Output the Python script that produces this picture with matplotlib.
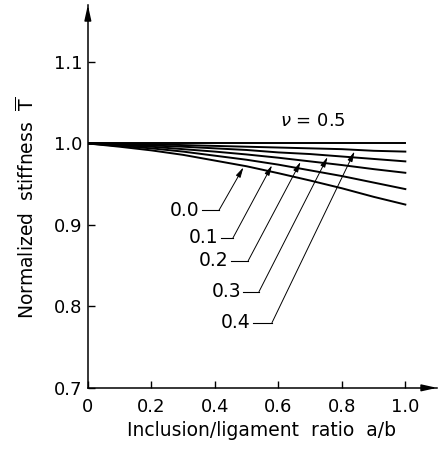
import matplotlib
matplotlib.use("Agg")
import matplotlib.pyplot as plt
import numpy as np

plt.rcParams['font.family'] = ['DejaVu Sans']
plt.rcParams['mathtext.fontset'] = 'dejavusans'

# inclusion/ligament ratio a/b
ratio = [0.0, 0.1, 0.2, 0.3, 0.4, 0.5, 0.6, 0.7, 0.8, 0.9, 1.0]

# normalized stiffness for each Poisson ratio
nu_values = ['0.0', '0.1', '0.2', '0.3', '0.4', '0.5']
stiff_00 = [1.0, 0.996, 0.9915, 0.986, 0.979, 0.972, 0.9635, 0.9545, 0.945, 0.9345, 0.925]
stiff_01 = [1.0, 0.997, 0.994, 0.990, 0.985, 0.980, 0.974, 0.967, 0.960, 0.952, 0.944]
stiff_02 = [1.0, 0.998, 0.996, 0.993, 0.990, 0.9865, 0.9825, 0.978, 0.9735, 0.9685, 0.964]
stiff_03 = [1.0, 0.999, 0.9975, 0.996, 0.994, 0.992, 0.989, 0.987, 0.984, 0.981, 0.978]
stiff_04 = [1.0, 0.9995, 0.999, 0.998, 0.997, 0.996, 0.995, 0.994, 0.993, 0.991, 0.990]
stiff_05 = [1.0, 1.0, 1.0, 1.0, 1.0, 1.0, 1.0, 1.0, 1.0, 1.0, 1.0]
curves = [stiff_00, stiff_01, stiff_02, stiff_03, stiff_04, stiff_05]

# where the arrows touch their curves (a/b)
arrow_at = [0.49, 0.58, 0.67, 0.755, 0.84]

# label layout: label height, and start/end of the short horizontal leader
label_y = [0.918, 0.884, 0.856, 0.818, 0.780]
leader_x = [(0.36, 0.413), (0.42, 0.457), (0.45, 0.505), (0.49, 0.539), (0.52, 0.58)]

xticks = [0, 0.2, 0.4, 0.6, 0.8, 1.0]
xticklabels = ['0', '0.2', '0.4', '0.6', '0.8', '1.0']
yticks = [0.7, 0.8, 0.9, 1.0, 1.1]

fig = plt.figure(figsize=(4.46, 4.51), dpi=100)
ax = fig.add_axes([0.197, 0.140, 0.783, 0.849])

for c in curves:
    ax.plot(ratio, c, color='k', lw=1.4)

for i in range(5):
    tip_y = np.interp(arrow_at[i], ratio, curves[i])
    x0, x1 = leader_x[i]
    ly = label_y[i]
    ax.plot([x0, x1], [ly, ly], color='k', lw=0.8)
    ax.annotate('', xy=(arrow_at[i], tip_y - 0.002), xytext=(x1, ly),
                arrowprops=dict(arrowstyle='-|>,head_length=0.6,head_width=0.15',
                                color='k', lw=0.7, shrinkA=0, shrinkB=0))
    ax.text(x0 - 0.008, ly, nu_values[i], fontsize=13.5, ha='right', va='center')

ax.text(0.71, 1.027, r'$\nu$ = 0.5', fontsize=13, ha='center', va='center')

ax.set_xlim(0, 1.1)
ax.set_ylim(0.7, 1.17)
ax.set_xticks(xticks)
ax.set_xticklabels(xticklabels)
ax.set_yticks(yticks)
ax.set_yticklabels(['%.1f' % v for v in yticks])
ax.tick_params(direction='in', length=5, width=1, labelsize=13)
ax.tick_params(axis='x', pad=7)
ax.tick_params(axis='y', pad=4)

ax.spines['top'].set_visible(False)
ax.spines['right'].set_visible(False)
ax.spines['left'].set_linewidth(1.1)
ax.spines['bottom'].set_linewidth(1.1)

# axis arrowheads
ax.annotate('', xy=(1.0, 0), xytext=(0.96, 0), xycoords='axes fraction',
            arrowprops=dict(arrowstyle='-|>,head_length=0.9,head_width=0.2', color='k', lw=1.1,
                            shrinkA=0, shrinkB=0))
ax.annotate('', xy=(0, 1.0), xytext=(0, 0.96), xycoords='axes fraction',
            arrowprops=dict(arrowstyle='-|>,head_length=0.9,head_width=0.2', color='k', lw=1.1,
                            shrinkA=0, shrinkB=0))

fig.text(0.06, 0.54, r'Normalized  stiffness  $\overline{\mathrm{T}}$', rotation=90,
         fontsize=13.5, ha='center', va='center')
fig.text(0.587, 0.046, 'Inclusion/ligament  ratio  a/b', fontsize=13.5, ha='center', va='center')

fig.savefig('out.png', dpi=100)
